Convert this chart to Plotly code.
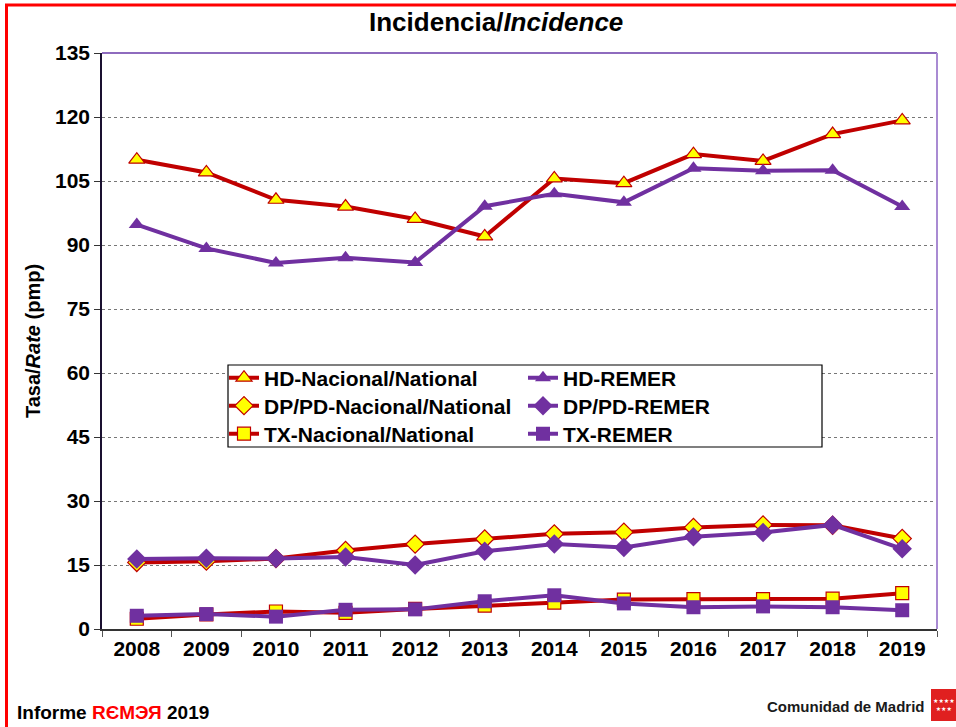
import plotly.graph_objects as go

years = ["2008", "2009", "2010", "2011", "2012", "2013", "2014", "2015", "2016", "2017", "2018", "2019"]

hd_nacional = [110.0, 107.0, 100.6, 99.0, 96.1, 92.0, 105.6, 104.5, 111.3, 109.7, 116.0, 119.2]
hd_remer = [94.8, 89.2, 85.8, 87.0, 85.9, 99.1, 102.0, 100.0, 108.0, 107.4, 107.5, 99.0]
dp_nacional = [15.6, 15.9, 16.5, 18.4, 19.9, 21.1, 22.3, 22.7, 23.8, 24.4, 24.3, 21.2]
dp_remer = [16.4, 16.6, 16.5, 16.9, 15.0, 18.2, 19.9, 19.1, 21.6, 22.6, 24.4, 18.8]
tx_nacional = [2.4, 3.4, 4.1, 3.8, 4.7, 5.5, 6.2, 6.9, 7.0, 7.0, 7.1, 8.4]
tx_remer = [3.1, 3.5, 2.9, 4.5, 4.6, 6.5, 7.9, 6.0, 5.1, 5.3, 5.1, 4.4]

RED = "#C00000"
PURPLE = "#7030A0"
YELLOW = "#FFFF00"

L, R, T, B = 102, 19, 53, 98
W, H = 956, 727
pw, ph = W - L - R, H - T - B

def px(x):
    return (x - L) / pw

def py(y):
    return (H - B - y) / ph

FONT = "Arial, Liberation Sans, sans-serif"
legend_font = dict(family=FONT, size=21, color="black", weight="bold")

fig = go.Figure()

nac_series = [
    ("HD-Nacional/National", hd_nacional, "triangle-up", 14, "legend"),
    ("DP/PD-Nacional/National", dp_nacional, "diamond", 14, "legend3"),
    ("TX-Nacional/National", tx_nacional, "square", 13, "legend5"),
]
remer_series = [
    ("HD-REMER", hd_remer, "triangle-up", 14, "legend2"),
    ("DP/PD-REMER", dp_remer, "diamond", 15, "legend4"),
    ("TX-REMER", tx_remer, "square", 14, "legend6"),
]

for name, vals, sym, size, lg in nac_series:
    fig.add_trace(go.Scatter(
        x=years, y=vals, name=name, mode="lines+markers",
        line=dict(color=RED, width=4),
        marker=dict(symbol=sym, size=size, color=YELLOW, line=dict(color=RED, width=1.2)),
        legend=lg,
    ))
for name, vals, sym, size, lg in remer_series:
    fig.add_trace(go.Scatter(
        x=years, y=vals, name=name, mode="lines+markers",
        line=dict(color=PURPLE, width=4),
        marker=dict(symbol=sym, size=size, color=PURPLE, line=dict(color=PURPLE, width=0)),
        legend=lg,
    ))

def leg(xpix, ypix):
    return dict(x=px(xpix), y=py(ypix), xanchor="left", yanchor="middle",
                bgcolor="rgba(0,0,0,0)", borderwidth=0, font=legend_font,
                tracegroupgap=0, itemwidth=30)

rows = [378, 406, 434]
fig.update_layout(
    width=W, height=H,
    margin=dict(l=L, r=R, t=T, b=B),
    paper_bgcolor="white", plot_bgcolor="white",
    font=dict(family=FONT, color="black"),
    showlegend=True,
    legend=leg(224, rows[0]),
    legend2=leg(523, rows[0]),
    legend3=leg(224, rows[1]),
    legend4=leg(523, rows[1]),
    legend5=leg(224, rows[2]),
    legend6=leg(523, rows[2]),
    xaxis=dict(
        type="category", range=[-0.5, 11.5],
        showline=True, linecolor="#333333", linewidth=1.5,
        ticks="outside", ticklen=6, tickcolor="#555555", tickson="boundaries",
        showgrid=False, zeroline=False,
        tickfont=dict(size=21, family=FONT, weight="bold"),
    ),
    yaxis=dict(
        range=[0, 135], tickvals=[0, 15, 30, 45, 60, 75, 90, 105, 120, 135],
        showline=True, linecolor="#1a1030", linewidth=1.5,
        ticks="outside", ticklen=6, tickcolor="#333333",
        showgrid=True, gridcolor="#777777", gridwidth=1, griddash="dot",
        zeroline=False,
        tickfont=dict(size=21, family=FONT, weight="bold"),
        title=dict(text="<b>Tasa/<i>Rate</i> (pmp)</b>", font=dict(size=20), standoff=9),
    ),
    shapes=[
        # legend box
        dict(type="rect", xref="paper", yref="paper",
             x0=px(228), x1=px(822), y0=py(447), y1=py(365),
             line=dict(color="black", width=1.2), fillcolor="white", layer="above"),
        # plot area top and right borders
        dict(type="line", xref="paper", yref="paper", x0=0, x1=1, y0=1, y1=1,
             line=dict(color="#8E6BBE", width=2)),
        dict(type="line", xref="paper", yref="paper", x0=1, x1=1, y0=0, y1=1,
             line=dict(color="#A98BD3", width=2)),
        # outer red frame
        dict(type="line", xref="paper", yref="paper", x0=px(6.5), x1=px(6.5), y0=py(740), y1=py(4.5),
             line=dict(color="#FF0000", width=3)),
        dict(type="line", xref="paper", yref="paper", x0=px(5), x1=px(970), y0=py(5), y1=py(5),
             line=dict(color="#FF0000", width=3)),
        # logo
        dict(type="rect", xref="paper", yref="paper", x0=px(931), x1=px(975), y0=py(721), y1=py(689),
             line=dict(width=0), fillcolor="#E02020", layer="above"),
    ],
    annotations=[
        dict(text="<b>Incidencia/<i>Incidence</i></b>", xref="paper", yref="paper",
             x=px(496), y=py(22), xanchor="center", yanchor="middle", showarrow=False,
             font=dict(size=26, family=FONT, color="black")),
        dict(text="<b>Informe <span style='color:#FF0000'>RЄMЭЯ</span> 2019</b>", xref="paper", yref="paper",
             x=px(15), y=py(712), xanchor="left", yanchor="middle", showarrow=False,
             font=dict(size=19, family=FONT, color="black")),
        dict(text="<b>Comunidad de Madrid</b>", xref="paper", yref="paper",
             x=px(927), y=py(706), xanchor="right", yanchor="middle", showarrow=False,
             font=dict(size=15, family=FONT, color="#1a1a1a")),
        dict(text="★★★★<br>★★★", xref="paper", yref="paper",
             x=px(944), y=py(704), xanchor="center", yanchor="middle", showarrow=False,
             font=dict(size=6, family="DejaVu Sans", color="white")),
    ],
)

fig.write_html("out.html", config={"displayModeBar": False},
               post_script="document.body.style.margin='0';document.body.style.overflow='hidden';")
